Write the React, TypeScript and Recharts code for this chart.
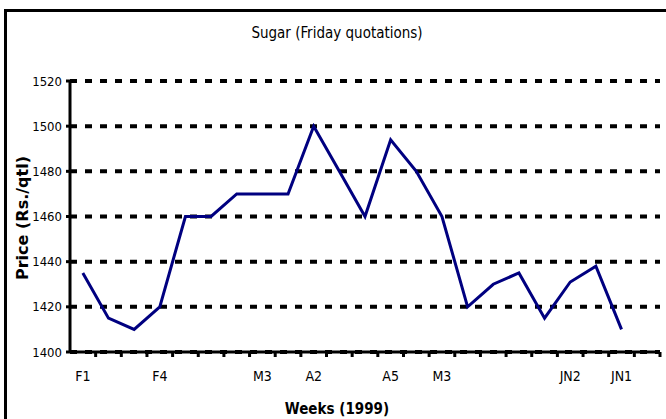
import React from 'react';
import { LineChart, Line, XAxis, YAxis, CartesianGrid } from 'recharts';

// weekly Friday quotations, 23 weekly slots (last one has no quote)
const weeks = [
  'F1', 'W2', 'W3', 'F4', 'W5', 'W6', 'W7', 'M3', 'W9', 'A2', 'W11', 'W12',
  'A5', 'W14', 'M3b', 'W16', 'W17', 'W18', 'W19', 'JN2', 'W21', 'JN1', 'W23',
];
const weekLabels = [
  'F1', '', '', 'F4', '', '', '', 'M3', '', 'A2', '', '',
  'A5', '', 'M3', '', '', '', '', 'JN2', '', 'JN1', '',
];
const prices = [
  1435, 1415, 1410, 1420, 1460, 1460, 1470, 1470, 1470, 1500, 1480, 1460,
  1494, 1480, 1460, 1420, 1430, 1435, 1415, 1431, 1438, 1410, null,
];
const priceTicks = [1400, 1420, 1440, 1460, 1480, 1500, 1520];

const data = weeks.map((w, i) => ({ week: w, price: prices[i] }));

const W = 666;
const H = 419;
const plotLeft = 70;
const plotRight = 6;
const halfSlot = (W - plotLeft - plotRight) / weeks.length / 2;

const narrow = '"Liberation Sans Narrow", "DejaVu Sans Condensed", sans-serif';

// label at slot centre, Excel style tick mark on the slot boundary
const WeekTick = (props: any) => {
  const { x, y, index } = props;
  return (
    <g>
      <line x1={x + halfSlot} x2={x + halfSlot} y1={y} y2={y + 5} stroke="#000" strokeWidth={3} />
      <text x={x} y={y + 19} dy="0.71em" textAnchor="middle" fill="#000" fontSize={14} fontFamily={narrow}>
        {weekLabels[index]}
      </text>
    </g>
  );
};

export default function App() {
  return (
    <div style={{ position: 'absolute', left: 0, top: 0, width: W, height: H, overflow: 'hidden', background: '#fff' }}>
      <div style={{ position: 'absolute', left: 4, top: 9, width: 800, height: 600, border: '3px solid #000' }} />
      <div style={{ position: 'absolute', left: 0, width: 674, top: 24, textAlign: 'center', fontFamily: narrow, fontSize: 15, color: '#000' }}>
        Sugar (Friday quotations)
      </div>
      <div style={{ position: 'absolute', left: 22, top: 218, transform: 'translate(-50%, -50%) rotate(-90deg)', whiteSpace: 'nowrap', fontFamily: '"DejaVu Sans", sans-serif', fontWeight: 'bold', fontSize: 16, color: '#000' }}>
        Price (Rs./qtl)
      </div>
      <div style={{ position: 'absolute', left: 0, width: 674, top: 400, textAlign: 'center', fontFamily: narrow, fontWeight: 'bold', fontSize: 15, color: '#000' }}>
        Weeks (1999)
      </div>
      <div style={{ position: 'absolute', left: 0, top: 0 }}>
        <LineChart width={W} height={H} data={data} margin={{ top: 81, right: plotRight, bottom: 27, left: 0 }}>
          <CartesianGrid vertical={false} stroke="#000" strokeWidth={4} strokeDasharray="7 8" />
          <XAxis
            dataKey="week"
            interval={0}
            height={40}
            padding={{ left: halfSlot, right: halfSlot }}
            axisLine={{ stroke: '#000', strokeWidth: 3 }}
            tickLine={false}
            tickSize={0}
            tickMargin={0}
            tick={<WeekTick />}
          />
          <YAxis
            width={plotLeft}
            domain={[1400, 1520]}
            ticks={priceTicks}
            interval={0}
            axisLine={{ stroke: '#000', strokeWidth: 3 }}
            tickLine={{ stroke: '#000', strokeWidth: 3 }}
            tickSize={4}
            tickMargin={4}
            tick={{ fill: '#000', fontSize: 13, fontFamily: narrow }}
          />
          <Line
            type="linear"
            dataKey="price"
            stroke="#000080"
            strokeWidth={3}
            dot={false}
            activeDot={false}
            isAnimationActive={false}
          />
        </LineChart>
      </div>
    </div>
  );
}
